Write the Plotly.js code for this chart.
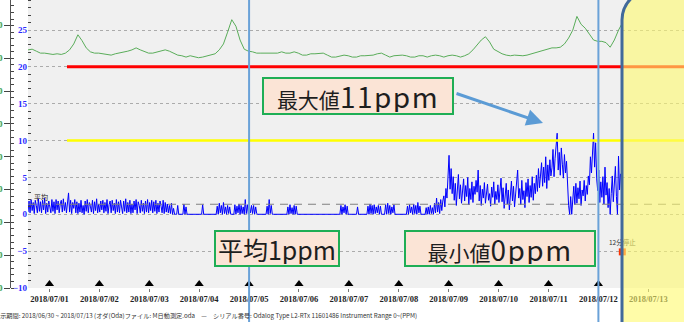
<!DOCTYPE html>
<html><head><meta charset="utf-8">
<script src="https://cdn.plot.ly/plotly-3.0.1.min.js"></script>
<style>html,body{margin:0;padding:0;background:#fff;}#chart{width:684px;height:322px;}</style>
</head><body><div id="chart"></div>
<script>
// ---- data ----
const sampleStart = '2018-06-30 13:40';
const rangeEnd = '2018-07-13 17:10';
const concStepMin = 30;
const concentration = [
 0.3,1.8,0.2,2.0,0.5,1.6,0.1,1.9,1.2,0.2,2.1,0.4,1.7,0.2,1.9,0.6,2.2,0.1,1.5,0.3,1.8,1.0,0.2,2.0,
 0.4,1.7,0.1,2.0,0.6,1.8,0.2,1.4,1.9,0.3,2.1,0.5,1.6,0.2,1.8,2.9,0.3,1.9,0.1,1.6,0.8,2.0,0.2,1.7,
 0.1,1.5,0.3,1.9,0.2,1.2,0.0,1.8,0.4,2.0,0.2,1.6,1.1,0.3,1.9,0.1,1.7,0.5,2.1,0.2,1.4,0.3,1.8,0.6,
 1.9,0.2,1.6,0.4,2.0,0.1,1.3,1.8,0.2,1.9,0.5,1.5,0.1,2.0,0.3,1.7,0.2,1.9,1.0,0.1,1.8,0.4,2.1,0.2,
 1.6,0.3,1.9,0.1,1.4,0.2,1.8,0.6,2.0,0.1,1.7,1.2,0.2,1.9,0.4,1.5,0.1,1.8,0.3,2.0,0.2,1.6,0.5,1.9,
 0.2,1.7,0.4,1.9,0.1,1.5,0.3,1.8,1.1,0.2,1.9,0.1,1.6,0.3,1.4,0.2,1.2,0.1,1.5,0.0,0.8,0.0,0.0,0.0,
 1.2,0.0,0.0,0.0,0.0,0.0,1.4,0.0,1.0,0.0,0.0,0.0,0.0,0.0,0.0,0.0,0.0,0.0,0.0,0.0,0.0,0.0,0.0,0.0,
 1.3,0.0,0.0,0.0,0.0,0.0,0.0,0.0,0.0,0.0,0.0,0.0,0.0,0.0,1.1,0.0,1.5,0.2,1.2,0.0,1.6,0.1,1.0,0.0,
 1.2,0.1,1.0,0.0,0.0,0.0,0.0,1.3,0.0,1.1,0.2,1.4,0.0,1.2,0.1,1.0,0.0,2.0,0.1,1.3,0.0,1.1,0.2,1.2,
 0.1,1.2,0.0,1.0,0.1,0.0,0.0,0.0,0.0,0.0,0.0,0.0,0.0,0.0,1.1,0.0,2.0,0.1,1.2,0.0,0.0,0.0,0.0,0.0,
 0.0,0.0,0.0,0.0,0.0,0.0,0.0,0.0,0.0,0.0,1.0,0.0,1.3,0.1,0.9,0.0,1.2,0.0,1.1,0.0,0.0,0.0,0.0,0.0,
 0.0,0.0,0.0,0.0,0.0,0.0,0.0,0.0,0.0,0.0,0.0,0.0,0.0,0.0,0.0,0.0,0.0,0.0,0.0,0.0,0.0,0.0,0.0,0.0,
 0.0,0.0,0.0,0.0,0.0,0.0,0.0,0.0,0.0,0.0,0.0,0.0,0.0,1.2,0.0,1.0,0.2,1.3,0.0,1.1,0.0,0.0,0.0,0.0,
 0.0,0.0,0.0,0.0,0.0,1.0,0.0,0.0,0.0,0.0,0.0,0.0,0.0,0.0,0.0,1.1,0.0,1.4,0.1,1.2,0.0,1.3,0.1,1.0,
 0.2,1.2,0.0,1.1,0.0,0.0,0.0,0.0,1.3,0.0,1.5,0.1,1.2,0.0,1.0,0.2,1.3,0.0,0.0,0.0,0.0,0.0,0.0,0.0,
 0.0,0.0,0.0,0.0,0.0,1.1,0.0,1.3,0.2,1.0,0.0,1.4,0.1,1.2,0.0,1.6,0.2,1.1,0.0,0.0,0.0,0.0,0.0,0.9,
 0.0,1.0,0.0,1.2,0.1,0.9,0.0,1.5,0.2,2.2,0.3,1.6,0.1,2.0,0.5,1.8,2.5,1.0,3.5,2.2,5.0,8.0,3.4,6.2,
 2.8,5.1,1.9,4.2,1.2,3.6,5.4,2.1,4.0,1.5,3.2,4.8,1.8,3.9,2.4,5.0,1.3,3.5,2.0,4.4,1.6,3.8,2.7,4.6,
 3.0,6.0,1.8,3.9,1.2,3.4,2.2,4.3,1.5,3.0,4.1,1.9,2.8,1.1,3.7,2.3,4.4,1.4,3.1,2.0,4.0,1.6,3.3,4.9,
 1.7,3.6,0.8,2.9,4.2,1.4,3.3,0.6,2.6,4.5,1.8,3.8,1.0,2.7,4.1,6.0,2.2,3.5,1.3,4.6,2.0,3.2,0.9,4.3,
 2.4,4.8,1.6,3.9,2.3,5.1,1.9,4.2,2.8,5.3,3.1,6.2,3.6,5.0,7.0,3.8,6.4,4.3,7.8,3.5,6.7,4.6,7.4,5.2,
 6.3,8.8,5.1,7.6,9.1,11.0,6.0,8.4,5.3,9.0,6.8,4.9,8.1,5.6,7.2,3.5,1.2,0.0,2.4,0.0,1.6,3.8,1.3,4.2,
 1.5,3.6,2.1,4.5,1.2,3.3,2.5,4.6,1.8,3.9,2.7,5.2,4.0,7.8,5.6,9.2,11.0,6.4,9.7,4.8,3.2,6.0,1.6,4.4,
 2.3,5.1,1.4,6.4,2.6,4.3,0.9,3.5,0.0,2.8,5.2,1.7,4.6,6.5,2.4,0.0,7.9,3.3,5.5
];
const tempStepMin = 120;
const temperature = [
 26.3,26.4,26.1,25.8,25.8,25.7,25.6,25.7,25.6,25.8,26.3,27.2,28.6,27.7,26.6,26.0,25.8,25.8,25.7,25.5,25.5,25.7,25.8,26.0,
 26.1,26.3,26.6,26.3,26.0,25.8,25.8,26.0,26.1,26.3,26.1,25.8,25.5,25.4,25.2,25.4,25.2,25.1,25.2,25.4,25.5,25.7,26.3,27.2,
 29.0,30.9,29.9,27.8,26.4,26.1,26.0,25.8,25.8,25.8,25.7,25.8,25.8,26.0,25.8,25.8,26.0,25.8,25.5,25.5,25.7,25.7,25.8,25.8,
 25.5,25.2,25.2,25.4,25.5,25.4,25.2,25.2,25.4,25.4,25.4,25.5,25.7,25.8,25.5,25.2,25.4,25.5,25.5,25.4,25.2,25.2,25.4,25.4,
 25.2,25.4,25.5,25.4,25.2,25.4,25.5,25.4,25.2,25.4,25.7,26.3,27.0,27.8,28.3,27.5,26.4,26.0,25.7,25.5,25.4,25.5,25.4,25.4,
 25.5,25.7,25.8,26.0,26.3,26.4,26.6,26.6,26.7,27.2,28.1,29.3,31.4,30.2,29.6,28.7,27.8,27.6,27.6,27.4,26.7,27.8,29.3,30.5
];
const dayMarks = ['2018-07-01','2018-07-02','2018-07-03','2018-07-04','2018-07-05','2018-07-06',
                  '2018-07-07','2018-07-08','2018-07-09','2018-07-10','2018-07-11','2018-07-12'];
const dayMarkLevel = -9.45;
const alarmFrom = '2018-07-01 08:25';
const alarmHigh = 20;
const alarmLow = 10;
const averageLevel = 1.36;
const stopTimes = ['2018-07-12 11:30'];
const stopLevels = [-5.1];
const stopLabelLevels = [-3.9];
const stopLabels = ['12分停止'];
const refLineDates = ['2018-07-05', '2018-07-12'];
const noteMax = ['最大値', '11ppm'];
const noteAvg = ['平均', '1ppm'];
const noteMin = ['最小値', '0ppm'];
const footerText = '表示期間: 2018/06/30 ~ 2018/07/13 (オダ(Oda)ファイル: M日動測定.oda　—　シリアル番号: Odalog Type L2-RTx 11601486 Instrument Range 0~(PPM)';

// ---- helpers ----
function timeSeries(start, stepMin, n) {
  const t0 = Date.parse(start.replace(' ', 'T') + ':00Z');
  return Array.from({length: n}, (_, i) =>
    new Date(t0 + i * stepMin * 60000).toISOString().slice(0, 16).replace('T', ' '));
}
const concTimes = timeSeries(sampleStart, concStepMin, concentration.length);
const tempTimes = timeSeries(sampleStart, tempStepMin, temperature.length);

const serif = 'Liberation Serif, DejaVu Serif, serif';
const jp = 'Noto Sans CJK JP, Noto Sans, sans-serif';

const traces = [
  {x: tempTimes, y: temperature, yaxis: 'y2', type: 'scatter', mode: 'lines',
   line: {color: '#5aad5a', width: 1}, hoverinfo: 'skip'},
  {x: concTimes, y: concentration, type: 'scatter', mode: 'lines',
   line: {color: '#0000ff', width: 1}, hoverinfo: 'skip'},
  {x: [sampleStart, rangeEnd], y: [averageLevel, averageLevel], type: 'scatter', mode: 'lines',
   line: {color: '#808080', width: 1, dash: '8px,6px'}, hoverinfo: 'skip'},
  {x: [alarmFrom, rangeEnd], y: [alarmLow, alarmLow], type: 'scatter', mode: 'lines',
   line: {color: '#ffff00', width: 2.5}, hoverinfo: 'skip'},
  {x: [alarmFrom, rangeEnd], y: [alarmHigh, alarmHigh], type: 'scatter', mode: 'lines',
   line: {color: '#ff0000', width: 3}, hoverinfo: 'skip'},
  {x: dayMarks, y: dayMarks.map(() => dayMarkLevel), type: 'scatter', mode: 'markers',
   marker: {symbol: 'triangle-up', size: 8, color: '#000'}, cliponaxis: false, hoverinfo: 'skip'},
  {x: stopTimes, y: stopLevels, type: 'scatter', mode: 'markers',
   marker: {symbol: 'square', size: 7, color: '#ff3300'}, hoverinfo: 'skip'},
  {x: stopTimes, y: stopLabelLevels, type: 'scatter', mode: 'text', text: stopLabels,
   textfont: {family: jp, size: 6.5, color: '#333'}, textposition: 'middle center', hoverinfo: 'skip'}
];

const layout = {
  width: 684, height: 322,
  margin: {l: 10, r: 0, t: 0, b: 34},
  paper_bgcolor: '#ffffff',
  plot_bgcolor: '#f0f0f0',
  showlegend: false,
  xaxis: {
    type: 'date', domain: [0.0267, 1], range: [sampleStart, rangeEnd],
    tick0: '2018-07-01', dtick: 86400000, tickformat: '%Y/%m/%d',
    showgrid: false, zeroline: false, showline: false,
    ticks: 'outside', ticklen: 3, tickcolor: '#777',
    tickfont: {family: serif, size: 8.5, color: '#222', weight: 'bold'}
  },
  yaxis: {
    range: [-10, 29.07], tick0: 0, dtick: 5,
    showgrid: true, gridcolor: '#ababab', griddash: 'dot', gridwidth: 1,
    zeroline: false, showline: false, ticks: '',
    tickfont: {family: serif, size: 9, color: '#2a2aff', weight: 'bold'},
    minor: {dtick: 1, ticks: 'inside', ticklen: 3, tickcolor: '#444', showgrid: false}
  },
  yaxis2: {
    overlaying: 'y', anchor: 'free', position: 0, side: 'left',
    range: [-10, 33.9], tick0: 0, dtick: 5, tickformat: '.1f',
    showgrid: false, zeroline: false, showline: true, linecolor: '#555', linewidth: 1,
    ticks: 'outside', ticklen: 6, tickcolor: '#444',
    tickfont: {family: serif, size: 8, color: '#3a9a3a', weight: 'bold'},
    minor: {dtick: 1, ticks: 'inside', ticklen: 3, tickcolor: '#444', showgrid: false}
  },
  shapes: [
    {type: 'path', xref: 'paper', yref: 'paper', layer: 'above',
     path: 'M 0.90801,-0.14583 L 0.90801,0.93056 C 0.90801,0.98809 0.92794,1.03472 0.95252,1.03472 L 1.02374,1.03472 L 1.02374,-0.14583 Z',
     fillcolor: 'rgba(255,250,110,0.6)', line: {color: '#41699a', width: 3}},
    ...refLineDates.map(d => ({type: 'line', xref: 'x', yref: 'paper', layer: 'above',
      x0: d, x1: d, y0: -0.13, y1: 1, line: {color: '#6aa2d8', width: 2}}))
  ],
  annotations: [
    {xref: 'paper', yref: 'paper', x: 0.5163, y: 0.6667, xanchor: 'center', yanchor: 'middle',
     width: 186, height: 32, borderpad: 1, bgcolor: '#fbe4d6', bordercolor: '#1fae55', borderwidth: 2,
     showarrow: false, font: {family: jp, size: 21, color: '#1e1e1e'},
     text: noteMax[0] + '<span style="font-size:28px;letter-spacing:1.5px">' + noteMax[1] + '</span>'},
    {xref: 'paper', yref: 'paper', x: 0.3961, y: 0.1372, xanchor: 'center', yanchor: 'middle',
     width: 120, height: 31, borderpad: 1, bgcolor: '#fbe4d6', bordercolor: '#1fae55', borderwidth: 2,
     showarrow: false, font: {family: jp, size: 25, color: '#1e1e1e'},
     text: noteAvg[0] + noteAvg[1]},
    {xref: 'paper', yref: 'paper', x: 0.727, y: 0.1372, xanchor: 'center', yanchor: 'middle',
     width: 186, height: 31, borderpad: 1, bgcolor: '#fbe4d6', bordercolor: '#1fae55', borderwidth: 2,
     showarrow: false, font: {family: jp, size: 21, color: '#1e1e1e'},
     text: noteMin[0] + '<span style="font-size:28px;letter-spacing:1.5px">' + noteMin[1] + '</span>'},
    {xref: 'paper', yref: 'paper', x: 0.7908, y: 0.5729, text: '', showarrow: true,
     ax: -88, ay: -30, arrowhead: 2, arrowsize: 1.1, arrowwidth: 3, arrowcolor: '#5b9bd5',
     standoff: 0, startstandoff: 0},
    {xref: 'x', yref: 'y', x: sampleStart, y: averageLevel, xanchor: 'left', yanchor: 'bottom',
     xshift: 4, yshift: 0, showarrow: false, text: '平均',
     font: {family: jp, size: 7, color: '#222'}},
    {xref: 'paper', yref: 'paper', x: -0.0267, y: -0.094, xanchor: 'left', yanchor: 'middle',
     showarrow: false, text: footerText, font: {family: jp, size: 6.2, color: '#333'}}
  ]
};

Plotly.newPlot('chart', traces, layout, {staticPlot: true, displayModeBar: false});
</script>
</body></html>
